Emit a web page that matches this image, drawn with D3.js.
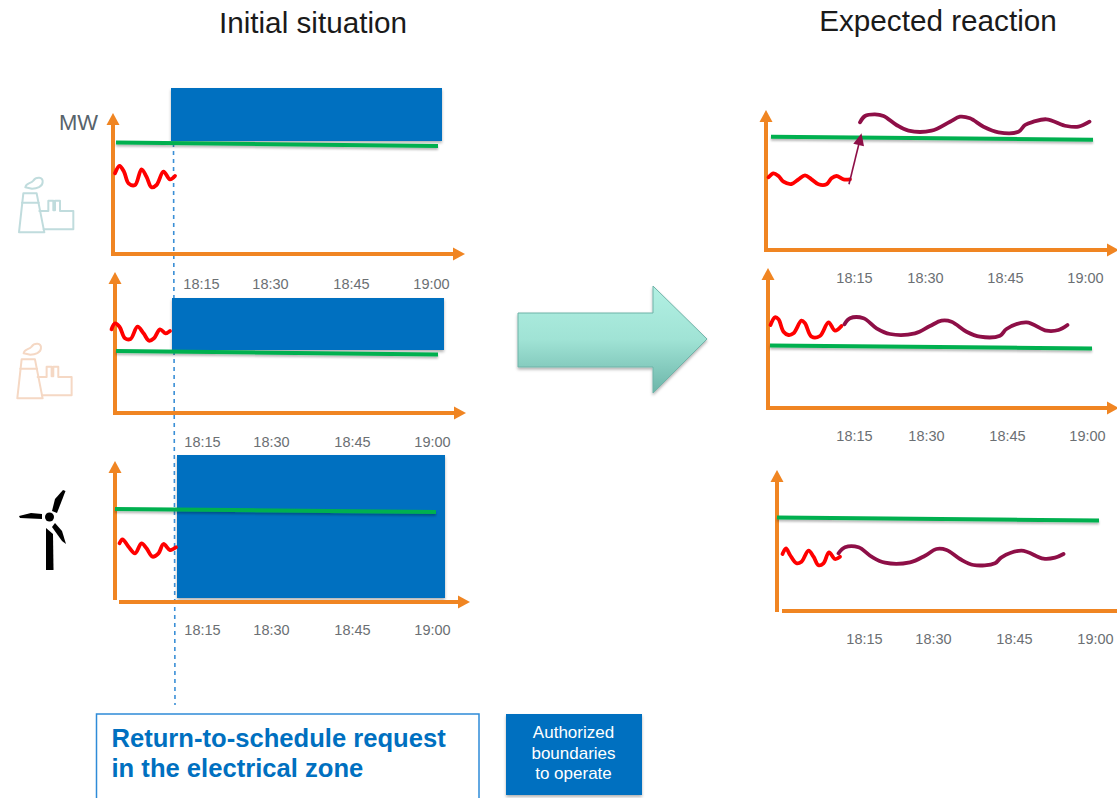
<!DOCTYPE html>
<html>
<head>
<meta charset="utf-8">
<script src="https://cdn.jsdelivr.net/npm/d3@7"></script>
<style>
  html, body { margin: 0; padding: 0; background: #fff; overflow: hidden; }
  svg { display: block; font-family: "Liberation Sans", Arial, sans-serif; }
</style>
</head>
<body>
<svg id="chart" width="1117" height="798"></svg>
<script>
// Times are minutes after 18:00, power values are MW above each panel's axis.
const tickMinutes = [15, 30, 45, 60];
const tickLabels = ["18:15", "18:30", "18:45", "19:00"];
const requestMinute = 9.6;

const scheduleInitial1 = [[-2, 111.5], [62.4, 108]];
const scheduleInitial2 = [[-2.2, 62], [62.2, 58.5]];
const scheduleInitial3 = [[-2.4, 93], [61.8, 90]];
const scheduleReaction1 = [[-1.6, 113.3], [62.8, 110.3]];
const scheduleReaction2 = [[-1.8, 62.5], [62.6, 59.5]];
const scheduleReaction3 = [[-2.4, 93.5], [62, 90.5]];

const boundsInitial1 = { from: 9, to: 63.2, low: 113, high: 166 };
const boundsInitial2 = { from: 9, to: 63.4, low: 63, high: 115 };
const boundsInitial3 = { from: 10, to: 63.6, low: 4, high: 147 };

const outputInitial1 = [[-2.2, 80.7], [-1.3, 88], [-0.4, 82.3], [0.5, 70.7], [1.8, 69], [3.1, 84.7], [4.1, 77.3], [5.1, 66.7], [6.1, 69], [7.5, 82.3], [8.8, 74.7], [9.8, 78]];
const outputInitial2 = [[-3.1, 83.7], [-2.4, 89.7], [-1.5, 86.3], [-0.4, 74.7], [0.7, 74], [2.1, 86.3], [3.3, 79.7], [4.4, 72.3], [5.4, 74.7], [6.6, 83.7], [7.7, 79.7], [8.6, 82]];
const outputInitial3 = [[-1.5, 58.7], [-0.9, 62.7], [0.3, 55.3], [1.6, 48.7], [2.9, 58.7], [3.9, 53.7], [5.1, 45.3], [6.3, 48.7], [7.3, 58], [8.6, 52], [9.8, 54.7]];

const outputBefore1 = [[-2.1, 72.7], [-1.1, 76.7], [-0.1, 74], [0.9, 68.3], [2.5, 66], [3.9, 70.7], [5.2, 74.7], [6.5, 70.7], [7.9, 65.7], [9.5, 65.7], [10.5, 71.7], [11.5, 74], [12.9, 70.7], [14.2, 70.7]];
const outputBefore2 = [[-1.7, 83], [-0.8, 90.7], [-0.1, 88.7], [0.9, 76.3], [1.9, 73], [2.9, 74.7], [4.5, 87.3], [5.2, 84.7], [6.5, 71.3], [8.2, 72], [9.9, 85.7], [11.2, 77.3], [12.5, 82]];
const outputBefore3 = [[-1.3, 57], [-0.6, 62.7], [0.2, 56], [1.5, 47.7], [2.5, 49.3], [3.9, 60.3], [4.9, 54.3], [5.9, 45.7], [6.9, 47.7], [8, 58.7], [9.2, 52], [10.2, 54.3]];

const outputAfter1 = [[16.2, 127.7], [17.2, 134], [19.2, 135.7], [20.9, 134], [23.5, 125], [25.9, 119.3], [30.5, 119.3], [34.2, 128.3], [36.2, 133.3], [38.2, 131.7], [40.9, 123.3], [43.9, 117.7], [47.9, 118.3], [49.2, 125], [50.9, 128.3], [53.5, 130.7], [57.5, 124], [59.9, 123.3], [62.1, 128.3]];
const outputAfter2 = [[13.1, 83.7], [14.2, 89.7], [16.9, 89.7], [19.5, 79.7], [22.2, 74], [27.2, 74.7], [30.2, 82], [32.5, 87.3], [34.5, 86.3], [37.5, 76.3], [40.2, 71.3], [44.2, 72.3], [45.5, 79], [49.5, 85.7], [53.5, 77.3], [55.9, 78], [57.7, 83]];
const outputAfter3 = [[9.9, 57.7], [11.2, 63.7], [13.9, 63.7], [16.5, 54.3], [19.2, 48.3], [24.2, 48.7], [27.2, 55.3], [29.5, 62], [31.5, 61], [34.2, 52], [36.9, 46], [41.2, 47.7], [42.5, 53.7], [46.5, 60.3], [50.9, 52.3], [53.2, 53.3], [54.9, 57]];

const rampUp = [[14, 65.7], [16.5, 116.7]];

// Panel frames, in page coordinates.
const panels = [
  { firstTick: 201, baseY: 254, axisX: 113, topY: 113, hStart: 111, hEnd: 465, labelY: 284, labelOffsets: [0, 69, 150, 230], schedule: scheduleInitial1, bounds: boundsInitial1, before: outputInitial1 },
  { firstTick: 202, baseY: 413, axisX: 115, topY: 272, hStart: 113, hEnd: 466, labelY: 442, labelOffsets: [0, 69, 150, 230], schedule: scheduleInitial2, bounds: boundsInitial2, before: outputInitial2 },
  { firstTick: 202, baseY: 602, axisX: 115, topY: 461, hStart: 119, hEnd: 470, labelY: 630, labelOffsets: [0, 69, 150, 230], vEnd: 600, schedule: scheduleInitial3, bounds: boundsInitial3, before: outputInitial3 },
  { firstTick: 854, baseY: 250, axisX: 766, topY: 110, hStart: 764, hEnd: 1119, labelY: 278, labelOffsets: [0, 71, 151, 231], schedule: scheduleReaction1, before: outputBefore1, after: outputAfter1, ramp: rampUp },
  { firstTick: 854, baseY: 408, axisX: 768, topY: 268, hStart: 766, hEnd: 1119, labelY: 436, labelOffsets: [0, 72, 153, 233], schedule: scheduleReaction2, before: outputBefore2, after: outputAfter2 },
  { firstTick: 864, baseY: 611, axisX: 777, topY: 470, hStart: 782, hEnd: 1125, labelY: 639, labelOffsets: [0, 69, 150, 231], vEnd: 612, noRightArrow: true, schedule: scheduleReaction3, before: outputBefore3, after: outputAfter3 }
];

const ORANGE = "#F08522";
const BLUE = "#0070C0";
const GREEN = "#00B050";
const RED = "#FF0000";
const WINE = "#8E0F47";
const TICK_GREY = "#6B6F73";
const PX_PER_MINUTE = 5;

const svg = d3.select("#chart");
const defs = svg.append("defs");

const soft = defs.append("filter").attr("id", "soft")
  .attr("x", "-5%").attr("y", "-30%").attr("width", "110%").attr("height", "180%")
  .attr("filterUnits", "objectBoundingBox");
soft.append("feDropShadow").attr("dx", 0).attr("dy", 2).attr("stdDeviation", 1.5)
  .attr("flood-color", "#000").attr("flood-opacity", 0.3);

const lineShadow = defs.append("filter").attr("id", "lineShadow")
  .attr("filterUnits", "userSpaceOnUse").attr("x", 0).attr("y", 0).attr("width", 1117).attr("height", 798);
lineShadow.append("feDropShadow").attr("dx", 0).attr("dy", 2).attr("stdDeviation", 1.2)
  .attr("flood-color", "#000").attr("flood-opacity", 0.28);

const arrowFill = defs.append("linearGradient").attr("id", "arrowFill")
  .attr("x1", 0).attr("y1", 0).attr("x2", 0).attr("y2", 1);
arrowFill.append("stop").attr("offset", "0").attr("stop-color", "#B2F0E3");
arrowFill.append("stop").attr("offset", "0.5").attr("stop-color", "#A0E3D5");
arrowFill.append("stop").attr("offset", "1").attr("stop-color", "#6CB5A9");

const xScaleOf = p => d3.scaleLinear()
  .domain([15, 60])
  .range([p.firstTick, p.firstTick + 45 * PX_PER_MINUTE]);
const yScaleOf = p => d3.scaleLinear()
  .domain([0, 150])
  .range([p.baseY, p.baseY - 150]);
const labelScaleOf = p => d3.scaleLinear()
  .domain(tickMinutes)
  .range(p.labelOffsets.map(o => p.firstTick + o));

function arrowHead(g, tipX, tipY, dir) {
  const w = 6.5, l = 12;
  const pts = dir === "up"
    ? [[tipX, tipY], [tipX - w, tipY + l], [tipX + w, tipY + l]]
    : [[tipX, tipY], [tipX - l, tipY - w], [tipX - l, tipY + w]];
  g.append("polygon").attr("points", pts.join(" ")).attr("fill", ORANGE);
}

// Dashed marker at the moment of the request, behind the panels.
const markerX = xScaleOf(panels[0])(requestMinute);
svg.append("line")
  .attr("x1", markerX - 0.5).attr("x2", markerX + 1)
  .attr("y1", 143).attr("y2", 705)
  .attr("stroke", "#3A8FD6").attr("stroke-width", 1.6)
  .attr("stroke-dasharray", "4 4");

panels.forEach(p => {
  const x = xScaleOf(p), y = yScaleOf(p), labelX = labelScaleOf(p);
  const g = svg.append("g");
  const path = d3.line().x(d => x(d[0])).y(d => y(d[1]));
  const wavy = d3.line().x(d => x(d[0])).y(d => y(d[1])).curve(d3.curveCatmullRom.alpha(0.5));

  if (p.bounds) {
    g.append("rect")
      .attr("x", x(p.bounds.from)).attr("width", x(p.bounds.to) - x(p.bounds.from))
      .attr("y", y(p.bounds.high)).attr("height", y(p.bounds.low) - y(p.bounds.high))
      .attr("fill", BLUE).attr("filter", "url(#soft)");
  }

  // Orange frame of the panel.
  g.append("line").attr("x1", p.axisX).attr("x2", p.axisX)
    .attr("y1", p.topY + 8).attr("y2", p.vEnd || p.baseY + 2)
    .attr("stroke", ORANGE).attr("stroke-width", 4);
  arrowHead(g, p.axisX, p.topY, "up");
  g.append("line").attr("x1", p.hStart).attr("x2", p.hEnd - 8)
    .attr("y1", p.baseY).attr("y2", p.baseY)
    .attr("stroke", ORANGE).attr("stroke-width", 4);
  if (!p.noRightArrow) arrowHead(g, p.hEnd, p.baseY, "right");

  g.append("path").datum(p.schedule).attr("d", path)
    .attr("fill", "none").attr("stroke", GREEN).attr("stroke-width", 4)
    .attr("filter", "url(#lineShadow)");

  g.append("path").datum(p.before).attr("d", wavy)
    .attr("fill", "none").attr("stroke", RED).attr("stroke-width", 3.8)
    .attr("stroke-linecap", "round").attr("stroke-linejoin", "round");

  if (p.after) {
    g.append("path").datum(p.after).attr("d", wavy)
      .attr("fill", "none").attr("stroke", WINE).attr("stroke-width", 3.8)
      .attr("stroke-linecap", "round").attr("stroke-linejoin", "round");
  }

  if (p.ramp) {
    const [a, b] = p.ramp;
    const ax = x(a[0]), ay = y(a[1]), bx = x(b[0]), by = y(b[1]);
    const ang = Math.atan2(by - ay, bx - ax);
    const len = Math.hypot(bx - ax, by - ay);
    const rg = g.append("g").attr("transform", `translate(${ax},${ay}) rotate(${ang * 180 / Math.PI})`);
    rg.append("line").attr("x1", 0).attr("x2", len - 9).attr("y1", 0).attr("y2", 0)
      .attr("stroke", WINE).attr("stroke-width", 1.6);
    rg.append("polygon")
      .attr("points", `${len},0 ${len - 12},-5.5 ${len - 12},5.5`).attr("fill", WINE);
  }

  // Time labels, kept on the axis generator with no line or tick marks.
  const axis = d3.axisBottom(labelX)
    .tickValues(tickMinutes)
    .tickFormat((d, i) => tickLabels[i])
    .tickSize(0).tickPadding(0);
  const ag = g.append("g").attr("transform", `translate(0,${p.labelY - 5.5})`).call(axis);
  ag.select(".domain").remove();
  ag.selectAll("text")
    .attr("fill", TICK_GREY).attr("font-size", 14.5)
    .attr("font-family", '"Liberation Sans", Arial, sans-serif');
});

// Power plant pictogram, outline only.
function plant(tx, ty, colour) {
  const g = svg.append("g")
    .attr("transform", `translate(${tx},${ty}) scale(0.3333)`)
    .attr("fill", "none").attr("stroke", colour).attr("stroke-width", 6)
    .attr("stroke-linejoin", "round").attr("stroke-linecap", "round");
  g.append("path").attr("d", "M70,340 L110,340 L133,457 L57,457 Z");
  g.append("path").attr("d", "M66,368 L116,368");
  g.append("path").attr("d", "M76,322 C78,308 92,312 100,302 C108,290 130,290 128,306 C128,320 110,326 96,326 Z");
  g.append("path").attr("d", "M118,393 L145,393 L145,362 L160,362 L160,391 L165,391 L165,362 L180,362 L180,393 L220,393 L220,448 L131,448");
}
plant(0, 80, "#C0DCDD");
plant(-1.7, 246, "#F5D8C4");

// Wind turbine pictogram.
const turbine = svg.append("g").attr("fill", "#000");
turbine.append("polygon").attr("points", "46,528 53,534 53.5,570 46,570");
turbine.append("circle").attr("cx", 49.5).attr("cy", 517).attr("r", 4.5);
turbine.append("polygon").attr("points", "52,511 57,513 65.5,491 63,490 55,499");
turbine.append("polygon").attr("points", "42,514 42,519 20,518 19,516 31,513");
turbine.append("polygon").attr("points", "55,523 52,527 62,541 66,544 62,531");

// Headings.
svg.append("text").attr("x", 313).attr("y", 33).attr("text-anchor", "middle")
  .attr("font-size", 29.7).attr("fill", "#1a1a1a").text("Initial situation");
svg.append("text").attr("x", 938).attr("y", 31).attr("text-anchor", "middle")
  .attr("font-size", 29.7).attr("fill", "#1a1a1a").text("Expected reaction");
svg.append("text").attr("x", 59).attr("y", 129.5).attr("font-size", 22)
  .attr("fill", "#58636B").text("MW");

// Arrow between the two columns.
const bigArrow = d3.line()([[518, 313], [653, 313], [653, 286], [707, 339], [653, 393], [653, 367], [518, 367]]) + "Z";
svg.append("path").attr("d", bigArrow)
  .attr("fill", "url(#arrowFill)").attr("stroke", "#6FB3A8").attr("stroke-width", 1)
  .attr("filter", "url(#soft)");

// Request box, running off the bottom edge.
svg.append("rect").attr("x", 96.5).attr("y", 714).attr("width", 382.5).attr("height", 100)
  .attr("fill", "#fff").attr("stroke", "#2E8BD8").attr("stroke-width", 1.5);
["Return-to-schedule request", "in the electrical zone"].forEach((t, i) => {
  svg.append("text").attr("x", 111.5).attr("y", 747 + i * 30)
    .attr("font-size", 25.6).attr("font-weight", "bold").attr("fill", BLUE).text(t);
});

// Legend swatch for the blue rectangles.
svg.append("rect").attr("x", 506).attr("y", 714).attr("width", 136).attr("height", 81)
  .attr("fill", BLUE).attr("filter", "url(#soft)");
["Authorized", "boundaries", "to operate"].forEach((t, i) => {
  svg.append("text").attr("x", 573.5).attr("y", 738 + i * 20.5).attr("text-anchor", "middle")
    .attr("font-size", 17).attr("fill", "#fff").text(t);
});
</script>
</body>
</html>
